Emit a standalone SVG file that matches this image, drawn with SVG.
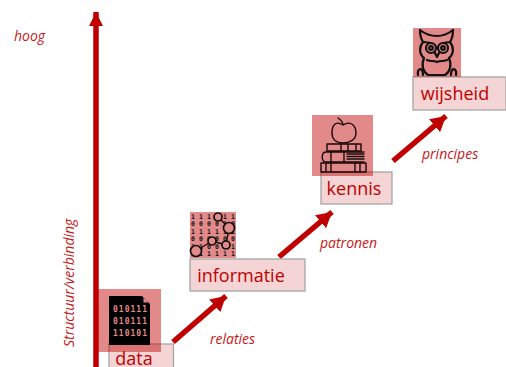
<svg xmlns="http://www.w3.org/2000/svg" width="506" height="367" viewBox="0 0 506 367">
<style>
.lbl{font-family:"Open Sans","Noto Sans",sans-serif;font-size:18px;fill:#c00000;text-anchor:middle}
.it{font-family:"Open Sans","Noto Sans",sans-serif;font-size:14px;font-style:italic;fill:#c00000;opacity:.9}
.box{fill:#f4d4d4;stroke:#a6a6a6;stroke-width:1.3}
.bg{fill:#c00000;fill-opacity:.46}
.bits{font-family:"DejaVu Sans Mono","Liberation Mono",monospace;font-weight:bold}
.ln{fill:none;stroke:#1a0808;stroke-width:1.4;stroke-linecap:round;stroke-linejoin:round}
.dk{fill:#e28a8a;stroke:#111;stroke-width:1.7}
.conn{stroke:#c00000;fill:none;stroke-width:5.500}
</style>
<defs>
<marker id="ah" markerUnits="userSpaceOnUse" markerWidth="18" markerHeight="18" refX="14" refY="7" orient="auto"><path d="M0 0L14 7L0 14Z" fill="#c00000"/></marker>
<marker id="ah2" markerUnits="userSpaceOnUse" markerWidth="18" markerHeight="18" refX="15" refY="8.500" orient="auto"><path d="M0 0L15 8.500L0 17Z" fill="#c00000"/></marker>
</defs>
<text class="it" x="14" y="41">hoog</text>
<text class="it" transform="translate(74,347) rotate(-90)">Structuur/verbinding</text>
<g id="connectors">
<path class="conn" d="M96 367V12" marker-end="url(#ah)"/>
<path class="conn" d="M173 342L226 296" marker-end="url(#ah2)"/>
<path class="conn" d="M279 257L332 212" marker-end="url(#ah2)"/>
<path class="conn" d="M393 161L446 116" marker-end="url(#ah2)"/>
</g>
<text class="it" x="210" y="344">relaties</text>
<text class="it" x="320" y="248">patronen</text>
<text class="it" x="422" y="159">principes</text>
<g id="data">
<rect class="box" x="109" y="344" width="64.500" height="30"/>
<rect class="bg" x="98" y="289" width="63" height="63"/>
<path d="M109 296H142L150 304V345H109Z" fill="#000"/>
<path d="M143.500 297.500L148.500 302.500H143.500Z" fill="#e28a8a"/>
<g class="bits" fill="#e28a8a" style="font-size:8px">
<text x="113" y="312" textLength="34">010111</text>
<text x="113" y="324" textLength="34">010111</text>
<text x="113" y="336" textLength="34">110101</text>
</g>
<text class="lbl" x="134" y="365">data</text>
</g>
<g id="informatie">
<rect class="box" x="190" y="259" width="115" height="32"/>
<rect class="bg" x="190" y="212" width="46" height="46"/>
<g class="bits" fill="#111" style="font-size:6.500px">
<text x="191" y="218.500" textLength="44">111111</text>
<text x="191" y="226" textLength="44">000010</text>
<text x="191" y="233.500" textLength="44">111111</text>
<text x="191" y="241" textLength="44">000000</text>
<text x="191" y="248.500" textLength="44">110011</text>
<text x="191" y="256" textLength="44">111111</text>
</g>
<path class="ln" d="M218 217L229 228L226 245L212 241L196 251"/>
<circle class="dk" cx="218" cy="217" r="4"/>
<circle class="dk" cx="229" cy="228" r="5.500"/>
<circle class="dk" cx="226" cy="245" r="4"/>
<circle class="dk" cx="212" cy="241" r="4"/>
<circle class="dk" cx="196" cy="251" r="5.500"/>
<text class="lbl" x="241" y="282">informatie</text>
</g>
<g id="kennis">
<rect class="box" x="321" y="172" width="71" height="32"/>
<rect class="bg" x="312" y="115" width="61" height="61"/>
<path class="ln" d="M343 125C335 120 332 126 332 133C332 140 337 143 343 143C349 143 356 140 356 133C356 126 351 120 343 125M343 125C343 122 341 120 338 118"/>
<path class="ln" d="M327 144H361V151H327ZM341 144V151M348 144V151M356 144V151"/>
<path class="ln" d="M364 152H326C321 152 321 162 326 162H364M331 152V162M344 152V162M347 154H364M347 156.500H364M347 159H364"/>
<path class="ln" d="M321 163H366V172H321ZM326 163V172M331 163V172M355 163V172M360 163V172"/>
<text class="lbl" x="354" y="195">kennis</text>
</g>
<g id="wijsheid">
<rect class="box" x="413" y="77" width="93" height="33"/>
<rect class="bg" x="413" y="28" width="48" height="49"/>
<g fill="none" stroke="#111" stroke-width="2.200" stroke-linecap="round" stroke-linejoin="round">
<path d="M420 30C420 35 421 39 423 42C419 47 419 54 424 58"/>
<path d="M453 30C453 35 452 39 450 42C454 47 454 54 449 58"/>
<path d="M420 30C425 34 430 36 437 36C443 36 448 34 453 30"/>
<path d="M424 58C421 65 423 72 428 75H445C450 72 452 65 449 58"/>
<circle cx="431" cy="48" r="5"/>
<circle cx="443" cy="48" r="5"/>
<circle cx="431" cy="48" r="1.800"/>
<circle cx="443" cy="48" r="1.800"/>
<path d="M434.500 52L437 57L439.500 52"/>
<path d="M424 42L431 43M450 42L443 43"/>
<path d="M427 60C431 62 433 60 437 62C441 60 443 62 447 60"/>
<path d="M418 75C417 70 420 68 422 70C423 72 423 74 423 75M456 75C457 70 454 68 452 70C451 72 451 74 451 75"/>
</g>
<text class="lbl" x="455" y="100">wijsheid</text>
</g>
</svg>
